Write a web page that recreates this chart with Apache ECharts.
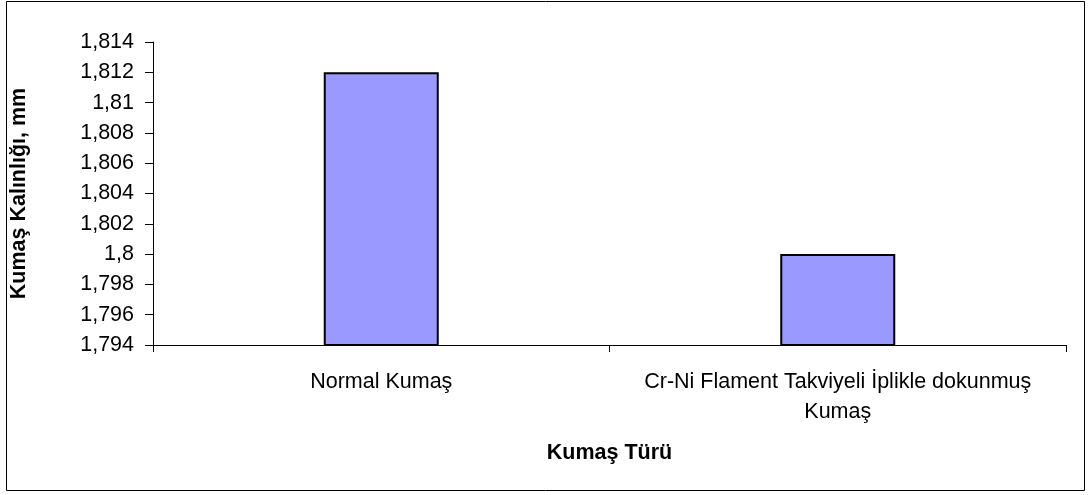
<!DOCTYPE html>
<html>
<head>
<meta charset="utf-8">
<script src="https://cdn.jsdelivr.net/npm/echarts@6/dist/echarts.min.js"></script>
<style>
  html, body { margin: 0; padding: 0; background: #fff; }
  #chart { width: 1089px; height: 495px; }
</style>
</head>
<body>
<div id="chart"></div>
<script>
// Fabric types and their measured thickness (mm)
const categories = ['Normal Kumaş', 'Cr-Ni Flament Takviyeli İplikle dokunmuş\nKumaş'];
const thickness = [1.812, 1.800];

// Value axis range and step
const yMin = 1.794;
const yMax = 1.814;
const yStep = 0.002;

const font = 'Arial, "Liberation Sans", sans-serif';
const fontSize = 21.5;

function fmtComma(v) {
  return String(Number(v.toFixed(3))).replace('.', ',');
}

const chart = echarts.init(document.getElementById('chart'));
chart.setOption({
  animation: false,
  backgroundColor: '#ffffff',
  graphic: [{
    type: 'rect',
    shape: { x: 6.5, y: 1.5, width: 1078, height: 489 },
    style: { fill: 'none', stroke: '#000', lineWidth: 1 },
    silent: true
  }],
  grid: { left: 151, right: 23, top: 42, bottom: 150 },
  xAxis: {
    type: 'category',
    data: categories,
    boundaryGap: true,
    name: 'Kumaş Türü',
    nameLocation: 'middle',
    nameGap: 97,
    nameTextStyle: { fontFamily: font, fontSize: fontSize, fontWeight: 'bold', color: '#000' },
    axisLine: { lineStyle: { color: '#000', width: 1 } },
    axisTick: { show: true, inside: false, length: 7, alignWithLabel: false, lineStyle: { color: '#000' } },
    axisLabel: { fontFamily: font, fontSize: fontSize, color: '#000', margin: 22, lineHeight: 30, interval: 0 },
    splitLine: { show: false }
  },
  yAxis: {
    type: 'value',
    min: yMin,
    max: yMax,
    interval: yStep,
    name: 'Kumaş Kalınlığı, mm',
    nameLocation: 'middle',
    nameGap: 123,
    nameRotate: 90,
    nameTextStyle: { fontFamily: font, fontSize: fontSize, fontWeight: 'bold', color: '#000' },
    axisLine: { show: true, lineStyle: { color: '#000', width: 1 } },
    axisTick: { show: true, inside: false, length: 8, lineStyle: { color: '#000' } },
    axisLabel: { fontFamily: font, fontSize: fontSize, color: '#000', margin: 19, formatter: fmtComma },
    splitLine: { show: false }
  },
  series: [{
    type: 'bar',
    data: thickness,
    barWidth: 115,
    itemStyle: { color: '#9999FF', borderColor: '#000', borderWidth: 2 }
  }]
});
</script>
</body>
</html>
